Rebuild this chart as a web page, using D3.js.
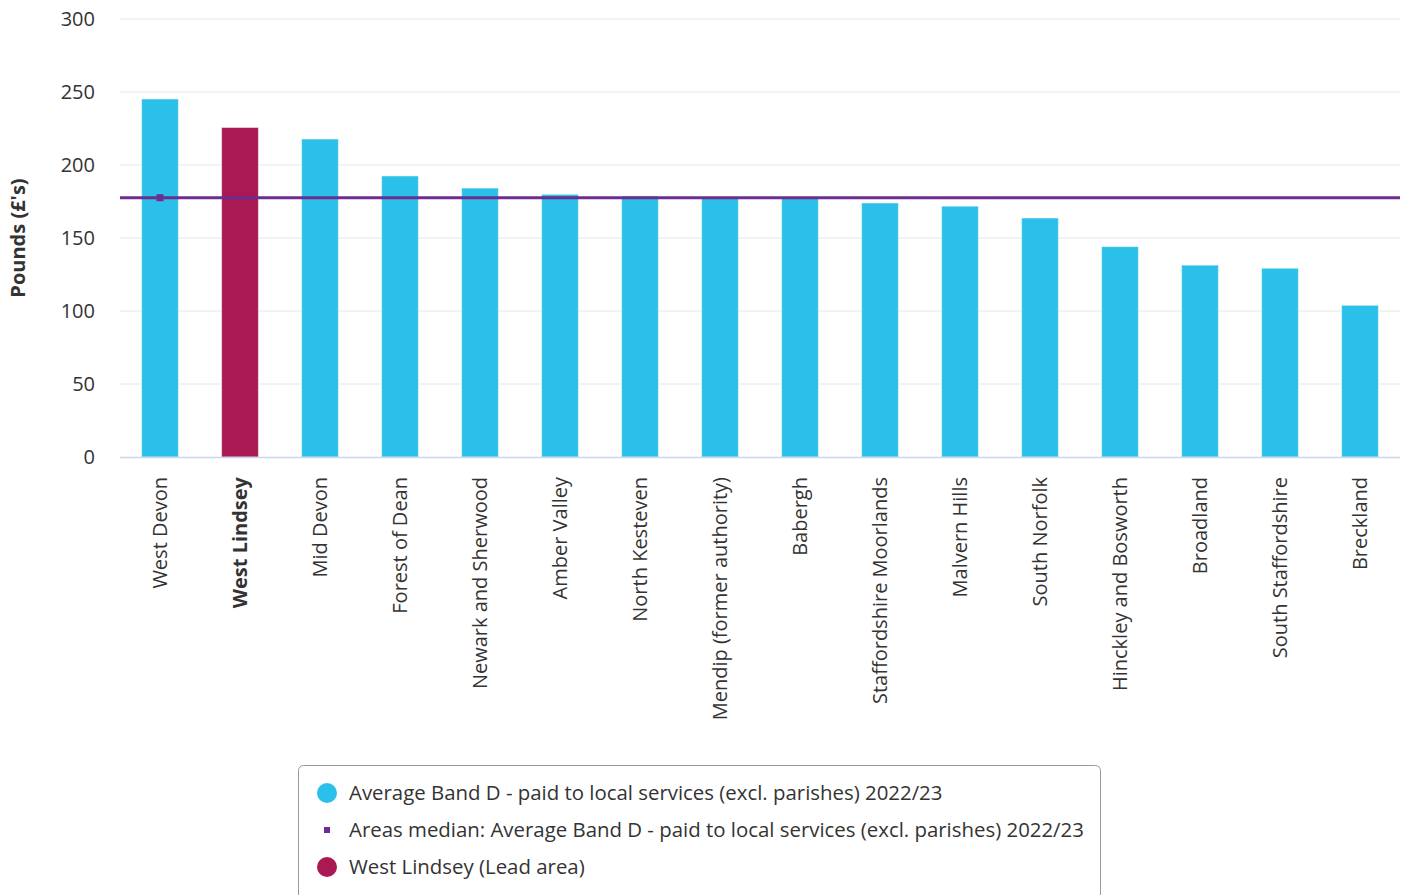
<!DOCTYPE html>
<html>
<head>
<meta charset="utf-8">
<script src="https://cdn.jsdelivr.net/npm/d3@7"></script>
<style>
  body { margin: 0; background: #fff; font-family: "Open Sans", sans-serif; }
  .tick text { fill: #333; }
</style>
</head>
<body>
<div class="chart"></div>
<script>
// council tax band D chart

var areas = ["West Devon", "West Lindsey", "Mid Devon", "Forest of Dean", "Newark and Sherwood",
  "Amber Valley", "North Kesteven", "Mendip (former authority)", "Babergh", "Staffordshire Moorlands",
  "Malvern Hills", "South Norfolk", "Hinckley and Bosworth", "Broadland", "South Staffordshire", "Breckland"];
var bandD = [245.2, 225.7, 217.8, 192.5, 184.2, 179.9, 178.8, 177.2, 177.1, 174.0,
  171.8, 163.7, 144.1, 131.4, 129.3, 103.9];
var medianValue = 177.6;
var leadArea = "West Lindsey";
var yTicks = [0, 50, 100, 150, 200, 250, 300];
var legendLabels = [
  "Average Band D - paid to local services (excl. parishes) 2022/23",
  "Areas median: Average Band D - paid to local services (excl. parishes) 2022/23",
  "West Lindsey (Lead area)"
];

var svgWidth = 1407;
var svgHeight = 895;
var margin = { top: 19, right: 7, bottom: 438, left: 120 };
var width = svgWidth - margin.left - margin.right;
var height = svgHeight - margin.top - margin.bottom;

var svg = d3.select(".chart")
  .append("svg")
  .attr("width", svgWidth)
  .attr("height", svgHeight);

var chartGroup = svg.append("g")
  .attr("transform", `translate(${margin.left}, ${margin.top})`);

var xScale = d3.scaleBand()
  .domain(areas)
  .range([0, width])
  .paddingInner(0.54)
  .paddingOuter(0.27);

var yScale = d3.scaleLinear()
  .domain([0, 300])
  .range([height, 0]);

// gridlines
chartGroup.append("g")
  .selectAll("line")
  .data(yTicks.filter(d => d > 0))
  .enter()
  .append("line")
  .attr("x1", 0)
  .attr("x2", width)
  .attr("y1", d => yScale(d))
  .attr("y2", d => yScale(d))
  .attr("stroke", "#e6e6e6")
  .attr("stroke-width", 1);

// y axis
var leftAxis = d3.axisLeft(yScale).tickValues(yTicks).tickSize(0).tickPadding(25);
var yAxisGroup = chartGroup.append("g").call(leftAxis);
yAxisGroup.select(".domain").remove();
yAxisGroup.selectAll("text")
  .attr("font-family", "Open Sans")
  .attr("font-size", 20)
  .attr("fill", "#333");

// y axis title
chartGroup.append("text")
  .attr("transform", "rotate(-90)")
  .attr("x", -height / 2)
  .attr("y", -margin.left + 25)
  .attr("text-anchor", "middle")
  .attr("font-family", "Open Sans")
  .attr("font-weight", "bold")
  .attr("font-size", 20)
  .attr("fill", "#333")
  .text("Pounds (£'s)");

// bars
chartGroup.selectAll("rect.bar")
  .data(areas)
  .enter()
  .append("rect")
  .attr("class", "bar")
  .attr("x", d => xScale(d))
  .attr("width", xScale.bandwidth())
  .attr("y", (d, i) => yScale(bandD[i]))
  .attr("height", (d, i) => height - yScale(bandD[i]))
  .attr("fill", d => d === leadArea ? "#a91953" : "#2bc0e9")
  .attr("stroke", "#ffffff")
  .attr("stroke-opacity", 0.5)
  .attr("stroke-width", 1);

// x axis line
chartGroup.append("line")
  .attr("x1", 0)
  .attr("x2", width)
  .attr("y1", height + 0.5)
  .attr("y2", height + 0.5)
  .attr("stroke", "#ccd6eb")
  .attr("stroke-width", 1.5);

// x labels
var bottomAxis = d3.axisBottom(xScale).tickSize(0).tickPadding(0);
var xAxisGroup = chartGroup.append("g")
  .attr("transform", `translate(0, ${height})`)
  .call(bottomAxis);
xAxisGroup.select(".domain").remove();
xAxisGroup.selectAll("text")
  .attr("transform", "rotate(-90)")
  .attr("x", -20)
  .attr("y", 0)
  .attr("dy", "0.35em")
  .attr("text-anchor", "end")
  .attr("font-family", "Open Sans")
  .attr("font-size", 20)
  .attr("fill", "#333")
  .attr("font-weight", d => d === leadArea ? "bold" : "normal");

// median line
chartGroup.append("line")
  .attr("x1", 0)
  .attr("x2", width)
  .attr("y1", yScale(medianValue))
  .attr("y2", yScale(medianValue))
  .attr("stroke", "#6f2c8f")
  .attr("stroke-width", 3);

chartGroup.append("rect")
  .attr("x", xScale(areas[0]) + xScale.bandwidth() / 2 - 3.5)
  .attr("y", yScale(medianValue) - 3.5)
  .attr("width", 7)
  .attr("height", 7)
  .attr("fill", "#6f2c8f");

// legend
var legend = svg.append("g").attr("transform", "translate(298, 765)");
legend.append("rect")
  .attr("x", 0.5)
  .attr("y", 0.5)
  .attr("width", 802)
  .attr("height", 150)
  .attr("rx", 5)
  .attr("fill", "#fff")
  .attr("stroke", "#999")
  .attr("stroke-width", 1);

var legendRows = legend.selectAll("g.item")
  .data(legendLabels)
  .enter()
  .append("g")
  .attr("class", "item")
  .attr("transform", (d, i) => `translate(0, ${28 + i * 37})`);

legendRows.each(function(d, i) {
  var row = d3.select(this);
  if (i === 1) {
    row.append("rect").attr("x", 26).attr("y", -3).attr("width", 6).attr("height", 6).attr("fill", "#6f2c8f");
  } else {
    row.append("circle").attr("cx", 29).attr("cy", 0).attr("r", 10)
      .attr("fill", i === 0 ? "#2bc0e9" : "#a91953");
  }
  row.append("text")
    .attr("x", 51)
    .attr("y", 0)
    .attr("dy", "0.35em")
    .attr("font-family", "Open Sans")
    .attr("font-size", 20.4)
    .attr("fill", "#333")
    .text(d);
});
</script>
</body>
</html>
